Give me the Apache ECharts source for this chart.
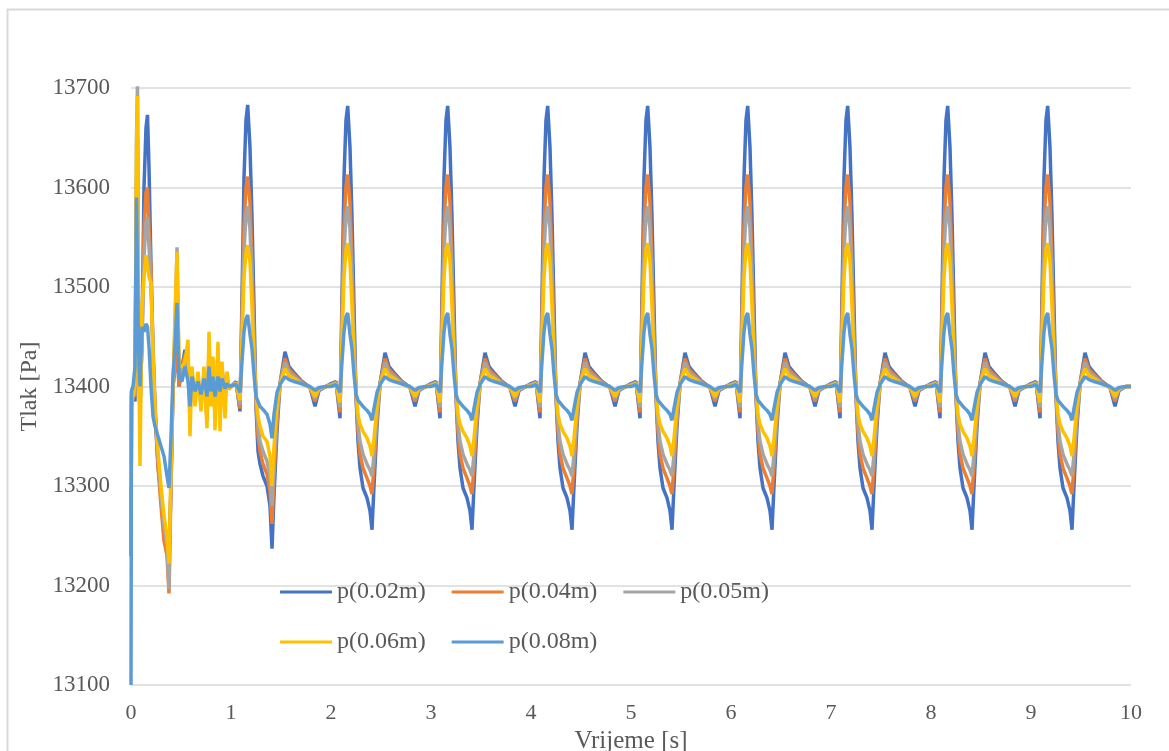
<!DOCTYPE html>
<html>
<head>
<meta charset="utf-8">
<script src="https://cdn.jsdelivr.net/npm/echarts@6/dist/echarts.min.js"></script>
<style>
html,body{margin:0;padding:0;background:#fff;}
#chart{width:1169px;height:751px;}
</style>
</head>
<body>
<div id="chart"></div>
<script>
// ---- data ----
const seriesNames = ['p(0.02m)', 'p(0.04m)', 'p(0.05m)', 'p(0.06m)', 'p(0.08m)'];
const xTickLabels = ['0','1','2','3','4','5','6','7','8','9','10'];
const yTickLabels = ['13100','13200','13300','13400','13500','13600','13700'];

// start-up transient, t = 0 .. 1 s
const tStart = [0,0.005,0.02,0.04,0.055,0.065,0.075,0.09,0.11,0.13,0.15,0.165,0.18,0.2,0.22,0.24,0.27,0.3,0.33,0.36,0.38,0.4,0.42,0.44,0.46,0.48,0.51,0.54,0.57,0.59,0.61,0.64,0.67,0.7,0.73,0.76,0.78,0.8,0.82,0.84,0.87,0.89,0.91,0.94,0.96,0.98];
const p02Start = [13230,13395,13400,13385,13500,13560,13430,13370,13450,13600,13660,13673,13620,13520,13430,13373,13320,13290,13250,13240,13227,13300,13400,13420,13440,13400,13420,13437,13420,13390,13410,13395,13405,13390,13405,13380,13410,13395,13415,13380,13405,13390,13410,13395,13405,13398];
const p04Start = [13230,13390,13400,13390,13600,13650,13450,13380,13450,13560,13595,13600,13560,13519,13440,13380,13320,13280,13245,13230,13192,13300,13400,13420,13450,13400,13418,13432,13415,13385,13410,13392,13405,13388,13408,13375,13415,13390,13418,13378,13408,13385,13415,13392,13408,13398];
const p05Start = [13230,13380,13400,13390,13650,13705,13470,13390,13440,13530,13565,13570,13540,13500,13440,13380,13330,13290,13260,13240,13196,13310,13400,13460,13540,13420,13415,13428,13418,13370,13415,13385,13412,13380,13412,13365,13440,13385,13425,13370,13435,13375,13420,13385,13412,13397];
const p06Start = [13300,13380,13390,13400,13640,13692,13460,13320,13480,13510,13532,13532,13510,13504,13430,13375,13335,13300,13270,13250,13222,13320,13400,13470,13535,13420,13420,13425,13447,13350,13420,13380,13415,13375,13420,13358,13455,13380,13430,13356,13445,13355,13425,13368,13415,13398];
const p08Start = [13100,13395,13400,13420,13590,13520,13440,13400,13460,13455,13463,13460,13440,13400,13370,13360,13350,13340,13330,13310,13298,13350,13410,13440,13484,13410,13405,13420,13405,13380,13410,13395,13405,13392,13408,13390,13420,13395,13410,13390,13410,13395,13408,13398,13403,13400];

// time within one cycle (s), the pulse repeats every second
const phase = [0,0.05,0.09,0.11,0.13,0.15,0.167,0.19,0.21,0.23,0.25,0.27,0.29,0.32,0.36,0.39,0.41,0.43,0.46,0.49,0.54,0.58,0.63,0.7,0.79,0.84,0.88,0.95];

// first cycle, t = 1 .. 2 s (deeper trough)
const p02First = [13400,13405,13375,13490,13610,13668,13683,13640,13570,13480,13380,13335,13322,13310,13300,13280,13237,13290,13355,13403,13435,13420,13414,13406,13399,13380,13396,13400];
const p04First = [13400,13404,13378,13470,13562,13600,13611,13585,13525,13450,13385,13350,13335,13322,13312,13295,13262,13310,13365,13403,13428,13417,13412,13405,13399,13385,13397,13400];
const p05First = [13400,13404,13382,13458,13536,13572,13581,13558,13505,13440,13388,13360,13345,13335,13325,13310,13280,13325,13372,13402,13424,13414,13410,13404,13399,13388,13397,13400];
const p06First = [13400,13403,13386,13448,13510,13535,13542,13525,13480,13428,13392,13370,13360,13350,13345,13330,13300,13340,13380,13402,13418,13411,13408,13403,13399,13390,13398,13400];
const p08First = [13400,13402,13394,13425,13455,13468,13472,13452,13438,13412,13390,13385,13380,13377,13372,13362,13348,13372,13394,13402,13410,13407,13405,13403,13400,13396,13399,13400];

// steady cycle, repeated from t = 2 s to t = 9 s
const cycleStarts = [2,3,4,5,6,7,8,9];
const p02Cycle = [13403,13405,13368,13490,13610,13668,13682,13640,13570,13480,13390,13345,13318,13298,13288,13275,13256,13300,13360,13403,13434,13420,13414,13406,13399,13380,13396,13400];
const p04Cycle = [13402,13404,13374,13470,13562,13602,13613,13585,13525,13450,13392,13355,13332,13318,13308,13300,13292,13320,13368,13403,13428,13417,13412,13405,13399,13385,13397,13400];
const p05Cycle = [13402,13404,13379,13458,13536,13572,13581,13558,13505,13440,13395,13362,13345,13332,13322,13316,13310,13332,13372,13402,13424,13414,13410,13404,13399,13388,13397,13400];
const p06Cycle = [13401,13403,13384,13448,13510,13537,13544,13525,13480,13428,13396,13372,13362,13355,13348,13340,13330,13348,13380,13402,13418,13411,13408,13403,13399,13390,13398,13400];
const p08Cycle = [13400,13402,13394,13425,13455,13470,13474,13452,13438,13412,13392,13386,13384,13380,13376,13372,13366,13378,13394,13402,13410,13407,13405,13403,13400,13396,13399,13400];

const endValues = [13400,13400,13400,13400,13400];

const colors = ['#4472C4','#ED7D31','#A5A5A5','#FFC000','#5B9BD5'];

function build(start, first, cycle, endV) {
  const d = [];
  tStart.forEach((t, i) => d.push([t, start[i]]));
  phase.forEach((p, i) => d.push([1 + p, first[i]]));
  cycleStarts.forEach(k => phase.forEach((p, i) => d.push([k + p, cycle[i]])));
  d.push([10, endV]);
  return d;
}
const allData = [
  build(p02Start, p02First, p02Cycle, endValues[0]),
  build(p04Start, p04First, p04Cycle, endValues[1]),
  build(p05Start, p05First, p05Cycle, endValues[2]),
  build(p06Start, p06First, p06Cycle, endValues[3]),
  build(p08Start, p08First, p08Cycle, endValues[4])
];

const chart = echarts.init(document.getElementById('chart'), null, {renderer: 'canvas'});
const font = 'Liberation Serif';
const legendText = {fontFamily: font, fontSize: 24, color: '#595959'};

chart.setOption({
  animation: false,
  backgroundColor: '#fff',
  graphic: [{
    type: 'rect', shape: {x: 7.5, y: 9.5, width: 1175, height: 760},
    style: {fill: 'none', stroke: '#d9d9d9', lineWidth: 2}, silent: true, z: -1
  }],
  grid: {left: 131, right: 38, top: 88, bottom: 66, containLabel: false, outerBoundsMode: 'none'},
  legend: [{
    data: seriesNames.slice(0, 3), left: 275, top: 575, icon: 'rect',
    itemWidth: 52, itemHeight: 3, itemGap: 26, textStyle: legendText
  }, {
    data: seriesNames.slice(3), left: 275, top: 625, icon: 'rect',
    itemWidth: 52, itemHeight: 3, itemGap: 26, textStyle: legendText
  }],
  xAxis: {
    type: 'value', min: 0, max: 10, interval: 1,
    name: 'Vrijeme [s]', nameLocation: 'middle', nameGap: 40,
    nameTextStyle: {fontFamily: font, fontSize: 25, color: '#595959'},
    axisLine: {show: false}, axisTick: {show: false}, splitLine: {show: false},
    axisLabel: {fontFamily: font, fontSize: 22, color: '#595959', margin: 17,
      formatter: v => xTickLabels[Math.round(v)]}
  },
  yAxis: {
    type: 'value', min: 13100, max: 13700, interval: 100,
    name: 'Tlak [Pa]', nameLocation: 'middle', nameGap: 88, nameRotate: 90,
    nameTextStyle: {fontFamily: font, fontSize: 24, color: '#595959'},
    axisLine: {show: false}, axisTick: {show: false},
    splitLine: {lineStyle: {color: '#d9d9d9', width: 1.5}},
    axisLabel: {fontFamily: font, fontSize: 23, color: '#595959', margin: 21,
      formatter: v => yTickLabels[Math.round((v - 13100) / 100)]}
  },
  series: seriesNames.map((n, i) => ({
    name: n, type: 'line', data: allData[i], showSymbol: false, symbol: 'none',
    color: colors[i], lineStyle: {width: 3.5, color: colors[i]}, z: 2 + i
  }))
});
</script>
</body>
</html>
